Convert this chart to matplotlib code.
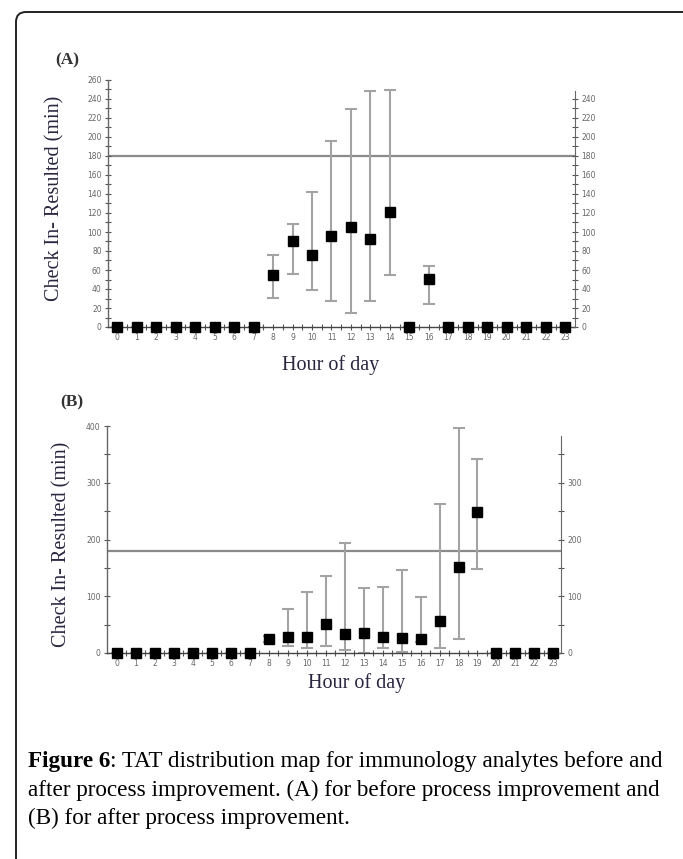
import numpy as np
import matplotlib
matplotlib.use("Agg")
import matplotlib.pyplot as plt
from matplotlib.patches import FancyBboxPatch

################################################################################
# data
hours = list(range(24))

# (A) before process improvement
a_mean = [0, 0, 0, 0, 0, 0, 0, 0, 55, 91, 76, 96, 105, 93, 121, 0, 51, 0, 0, 0, 0, 0, 0, 0]
a_low = [0, 0, 0, 0, 0, 0, 0, 0, 31, 56, 39, 27, 15, 27, 55, 0, 24, 0, 0, 0, 0, 0, 0, 0]
a_high = [0, 0, 0, 0, 0, 0, 0, 0, 76, 108, 142, 196, 229, 248, 249, 0, 64, 0, 0, 0, 0, 0, 0, 0]

# (B) after process improvement
b_mean = [0, 0, 0, 0, 0, 0, 0, 0, 25, 28, 28, 51, 33, 36, 28, 27, 25, 56, 152, 249, 0, 0, 0, 0]
b_low = [0, 0, 0, 0, 0, 0, 0, 0, 20, 13, 8, 12, 5, 0, 8, 2, 20, 8, 24, 148, 0, 0, 0, 0]
b_high = [0, 0, 0, 0, 0, 0, 0, 0, 30, 77, 108, 135, 194, 115, 116, 146, 99, 262, 397, 342, 0, 0, 0, 0]

target = 180
ylabel = "Check In- Resulted (min)"
xlabel = "Hour of day"
################################################################################

W, H = 683, 859
fig = plt.figure(figsize=(W / 100, H / 100), dpi=100)
fig.patch.set_facecolor("white")

# rounded frame that runs off the right and bottom edges
frame = FancyBboxPatch((16, -40), 720, H - 12 + 40,
                       boxstyle="round,pad=0,rounding_size=10",
                       transform=None, facecolor="none",
                       edgecolor="#222222", linewidth=1.4)
fig.patches.append(frame)

SERIF = ["Liberation Serif", "DejaVu Serif"]
TICKC = "#666666"


def px_axes(left, right, top, bottom):
    return fig.add_axes([left / W, 1 - bottom / H, (right - left) / W, (bottom - top) / H])


def draw_panel(ax, mean, low, high, ylim, xlim, lmaj, lmin, rmaj, rmin, rtop):
    mean = np.array(mean)
    err = [mean - np.array(low), np.array(high) - mean]
    ax.errorbar(hours, mean, yerr=err, fmt="none", ecolor="#a3a3a3",
                elinewidth=1.5, capsize=4.5, capthick=1.5, zorder=2)
    ax.axhline(target, color="#8a8a8a", lw=1.6, zorder=1)
    ax.plot(hours, mean, "s", color="black", ms=6.5, zorder=3, clip_on=False)
    ax.set_xlim(*xlim)
    ax.set_ylim(*ylim)
    for s in ["top", "right"]:
        ax.spines[s].set_visible(False)
    ax.spines["left"].set_color("#666666")
    ax.spines["bottom"].set_color("#444444")
    ax.spines["left"].set_linewidth(1.0)
    ax.spines["bottom"].set_linewidth(1.0)
    ax.set_xticks(hours)
    ax.set_xticks(np.arange(0.5, 23, 1), minor=True)
    ax.set_yticks(lmaj)
    ax.set_yticks(lmin, minor=True)
    ax.tick_params(axis="both", which="both", direction="inout", colors="#555555",
                   labelsize=5.5, labelcolor=TICKC, width=0.8, pad=2)
    ax.tick_params(axis="both", which="major", length=5)
    ax.tick_params(axis="both", which="minor", length=4)

    rx = ax.twinx()
    rx.set_ylim(*ylim)
    for s in ["top", "left", "bottom"]:
        rx.spines[s].set_visible(False)
    rx.spines["right"].set_bounds(0, rtop)
    rx.spines["right"].set_color("#666666")
    rx.set_yticks(rmaj)
    rx.set_yticks(rmin, minor=True)
    rx.tick_params(axis="y", which="both", direction="inout", colors="#555555",
                   labelsize=5.5, labelcolor=TICKC, width=0.8, pad=2)
    rx.tick_params(axis="y", which="major", length=5)
    rx.tick_params(axis="y", which="minor", length=4)


# (A)
axA = px_axes(108, 575, 80, 327)
draw_panel(axA, a_mean, a_low, a_high, (0, 260), (-0.47, 23.5),
           np.arange(0, 261, 20), np.arange(10, 260, 20),
           np.arange(0, 241, 20), np.arange(10, 250, 20), 248)

# (B)
axB = px_axes(107, 561, 426, 653)
draw_panel(axB, b_mean, b_low, b_high, (0, 400), (-0.52, 23.4),
           np.arange(0, 401, 100), np.arange(50, 400, 100),
           np.arange(0, 301, 100), np.arange(50, 390, 100), 382)

labc = "#2b2540"
fig.text(55 / W, 1 - 198 / H, ylabel, rotation=90, ha="center", va="center",
         family=SERIF, fontsize=14.5, color=labc)
fig.text(62 / W, 1 - 544 / H, ylabel, rotation=90, ha="center", va="center",
         family=SERIF, fontsize=14.5, color=labc)
fig.text(331 / W, 1 - 365 / H, xlabel, ha="center", va="center",
         family=SERIF, fontsize=14.5, color=labc)
fig.text(357 / W, 1 - 683 / H, xlabel, ha="center", va="center",
         family=SERIF, fontsize=14.5, color=labc)

fig.text(55 / W, 1 - 60 / H, "(A)", ha="left", va="center", family=SERIF,
         fontsize=12.5, fontweight="bold", color="#333333")
fig.text(60 / W, 1 - 402 / H, "(B)", ha="left", va="center", family=SERIF,
         fontsize=12.5, fontweight="bold", color="#333333")

# caption
cap_lines = [
    ": TAT distribution map for immunology analytes before and",
    "after process improvement. (A) for before process improvement and",
    "(B) for after process improvement.",
]
cap_y = [762, 790, 818]
capsize = 16.7
t0 = fig.text(28 / W, 1 - cap_y[0] / H, "Figure 6", ha="left", va="center",
              family=SERIF, fontsize=capsize, fontweight="bold")
fig.canvas.draw()
bb = t0.get_window_extent()
fig.text(bb.x1 / W, 1 - cap_y[0] / H, cap_lines[0], ha="left", va="center",
         family=SERIF, fontsize=capsize)
for line, y in zip(cap_lines[1:], cap_y[1:]):
    fig.text(28 / W, 1 - y / H, line, ha="left", va="center",
             family=SERIF, fontsize=capsize)

fig.savefig("out.png", dpi=100)
